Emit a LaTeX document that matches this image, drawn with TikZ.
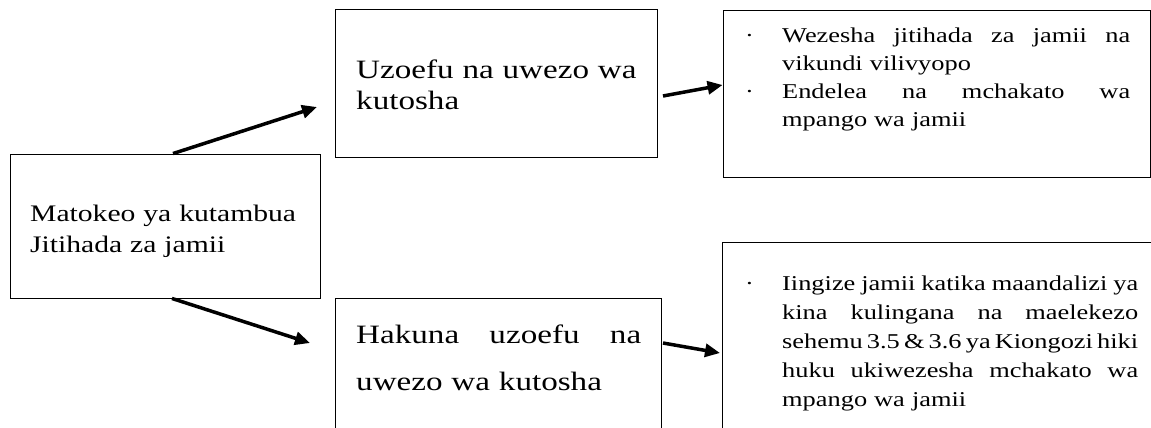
\documentclass[tikz,border=0pt]{standalone}
\usepackage{fontspec}
\setmainfont{Liberation Serif}[FakeStretch=1.25]
\usetikzlibrary{arrows.meta}
\tikzset{
  box/.style={draw=black, line width=0.9pt, inner sep=0pt, rectangle},
  arr/.style={line width=3.5pt, -{Triangle[length=15pt,width=13pt]}},
  txt/.style={inner sep=0pt, anchor=base west},
}
% justified line of given width
\newcommand{\myjbox}[2]{\hbox to #1{\spaceskip=0.12em plus 1fill\relax #2}}
% bullet + justified line
\newcommand{\mybj}[2]{\noindent\hbox{\hbox to 37pt{·\hfil}\myjbox{#1}{#2}}\par}
% indented justified line
\newcommand{\myij}[2]{\noindent\hbox{\hskip37pt\myjbox{#1}{#2}}\par}
% indented plain line
\newcommand{\myip}[1]{\noindent\hbox{\hskip37pt #1}\par}
% plain line
\newcommand{\mypl}[1]{\noindent\hbox{#1}\par}
\begin{document}
\begin{tikzpicture}[x=1pt,y=-1pt]
\useasboundingbox (0,0) rectangle (1151,428);
\clip (0,0) rectangle (1151,428);
% boxes
\node[box, minimum width=310pt, minimum height=144pt] (A) at (165,226) {};
\node[box, minimum width=322pt, minimum height=148pt] (B) at (496,83) {};
\node[box, minimum width=326pt, minimum height=172pt] (C) at (498,384) {};
\node[box, minimum width=427pt, minimum height=167pt] (D) at (936.5,93.5) {};
\node[box, minimum width=438pt, minimum height=228pt] (E) at (941,356) {};
% texts
\node[txt, text width=300pt, font={\fontsize{23.7}{31}\selectfont}] (tA) at (30,221)
  {\mypl{Matokeo ya kutambua}\mypl{Jitihada za jamii}};
\node[txt, text width=300pt, font={\fontsize{26.5}{32}\selectfont}] (tB) at (356,78)
  {\mypl{Uzoefu na uwezo wa}\mypl{kutosha}};
\node[txt, text width=300pt, font={\fontsize{26.5}{47}\selectfont}] (tC) at (356,343)
  {\noindent\myjbox{285pt}{Hakuna uzoefu na}\par\mypl{uwezo wa kutosha}};
\node[txt, text width=400pt, font={\fontsize{21.1}{28}\selectfont}] (tD) at (745,43)
  {\mybj{348pt}{Wezesha jitihada za jamii na}%
   \myip{vikundi vilivyopo}%
   \mybj{348pt}{Endelea na mchakato wa}%
   \myip{mpango wa jamii}};
\node[txt, text width=400pt, font={\fontsize{21.1}{29}\selectfont}] (tE) at (745,290)
  {\mybj{356pt}{Iingize jamii katika maandalizi ya}%
   \myij{356pt}{kina kulingana na maelekezo}%
   \myij{356pt}{sehemu 3.5 \& 3.6 ya Kiongozi hiki}%
   \myij{356pt}{huku ukiwezesha mchakato wa}%
   \myip{mpango wa jamii}};
% arrow end points
\coordinate (tipB) at (317,107);
\coordinate (tipC) at (310,343);
\coordinate (sD) at (663,96);
\coordinate (sE) at (663,343);
\coordinate (tipE) at (720,353);
% connectors
\draw[arr] ([xshift=8pt]A.north) -- (tipB);
\draw[arr] ([xshift=7pt]A.south) -- (tipC);
\draw[arr] (sD) -- ([yshift=8.5pt]D.west);
\draw[arr] (sE) -- (tipE);
\end{tikzpicture}
\end{document}
